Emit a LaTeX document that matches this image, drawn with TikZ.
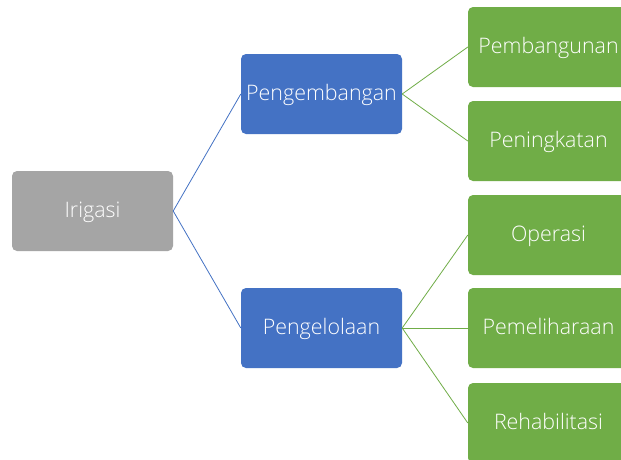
\documentclass[tikz,border=0pt]{standalone}
\usepackage{fontspec}
\setmainfont{Open Sans Light}
\usepackage{tikz}

\definecolor{grayfill}{HTML}{A5A5A5}
\definecolor{bluefill}{HTML}{4472C4}
\definecolor{greenfill}{HTML}{70AD47}

\begin{document}
\begin{tikzpicture}[x=1pt,y=-1pt]
\tikzset{box/.style = {shape=rectangle,rounded corners=5pt,text=white,minimum width=161pt,minimum height=80pt,inner sep=0pt,text height=1.5em,text depth=0.25em,font=\fontsize{21.4}{25}\selectfont},
    rootbox/.style = {box,fill=grayfill},
    midbox/.style = {box,fill=bluefill},
    leafbox/.style = {box,fill=greenfill},
    bluelink/.style = {draw=bluefill,line width=0.8pt},
    greenlink/.style = {draw=greenfill,line width=0.8pt}}
\useasboundingbox[fill=white] (0,0) rectangle (621,459);
% vertices
\node[rootbox] (irigasi) at (92.5,211) {Irigasi};
\node[midbox] (pengembangan) at (321.5,94) {Pengembangan};
\node[midbox] (pengelolaan) at (321.5,328) {Pengelolaan};
\foreach \y/\name/\txt in {47/pembangunan/Pembangunan,141/peningkatan/Peningkatan,235/operasi/Operasi,328/pemeliharaan/Pemeliharaan,423/rehabilitasi/Rehabilitasi} {
    \node[leafbox] (\name) at (548.5,\y) {\txt};
}
% edges
\foreach \j in {pengembangan,pengelolaan} {
    \draw[bluelink] (irigasi.east) -- (\j.west);
}
\foreach \i/\j in {pengembangan/pembangunan,pengembangan/peningkatan,pengelolaan/operasi,pengelolaan/pemeliharaan,pengelolaan/rehabilitasi} {
    \draw[greenlink] (\i.east) -- (\j.west);
}
\end{tikzpicture}
\end{document}
